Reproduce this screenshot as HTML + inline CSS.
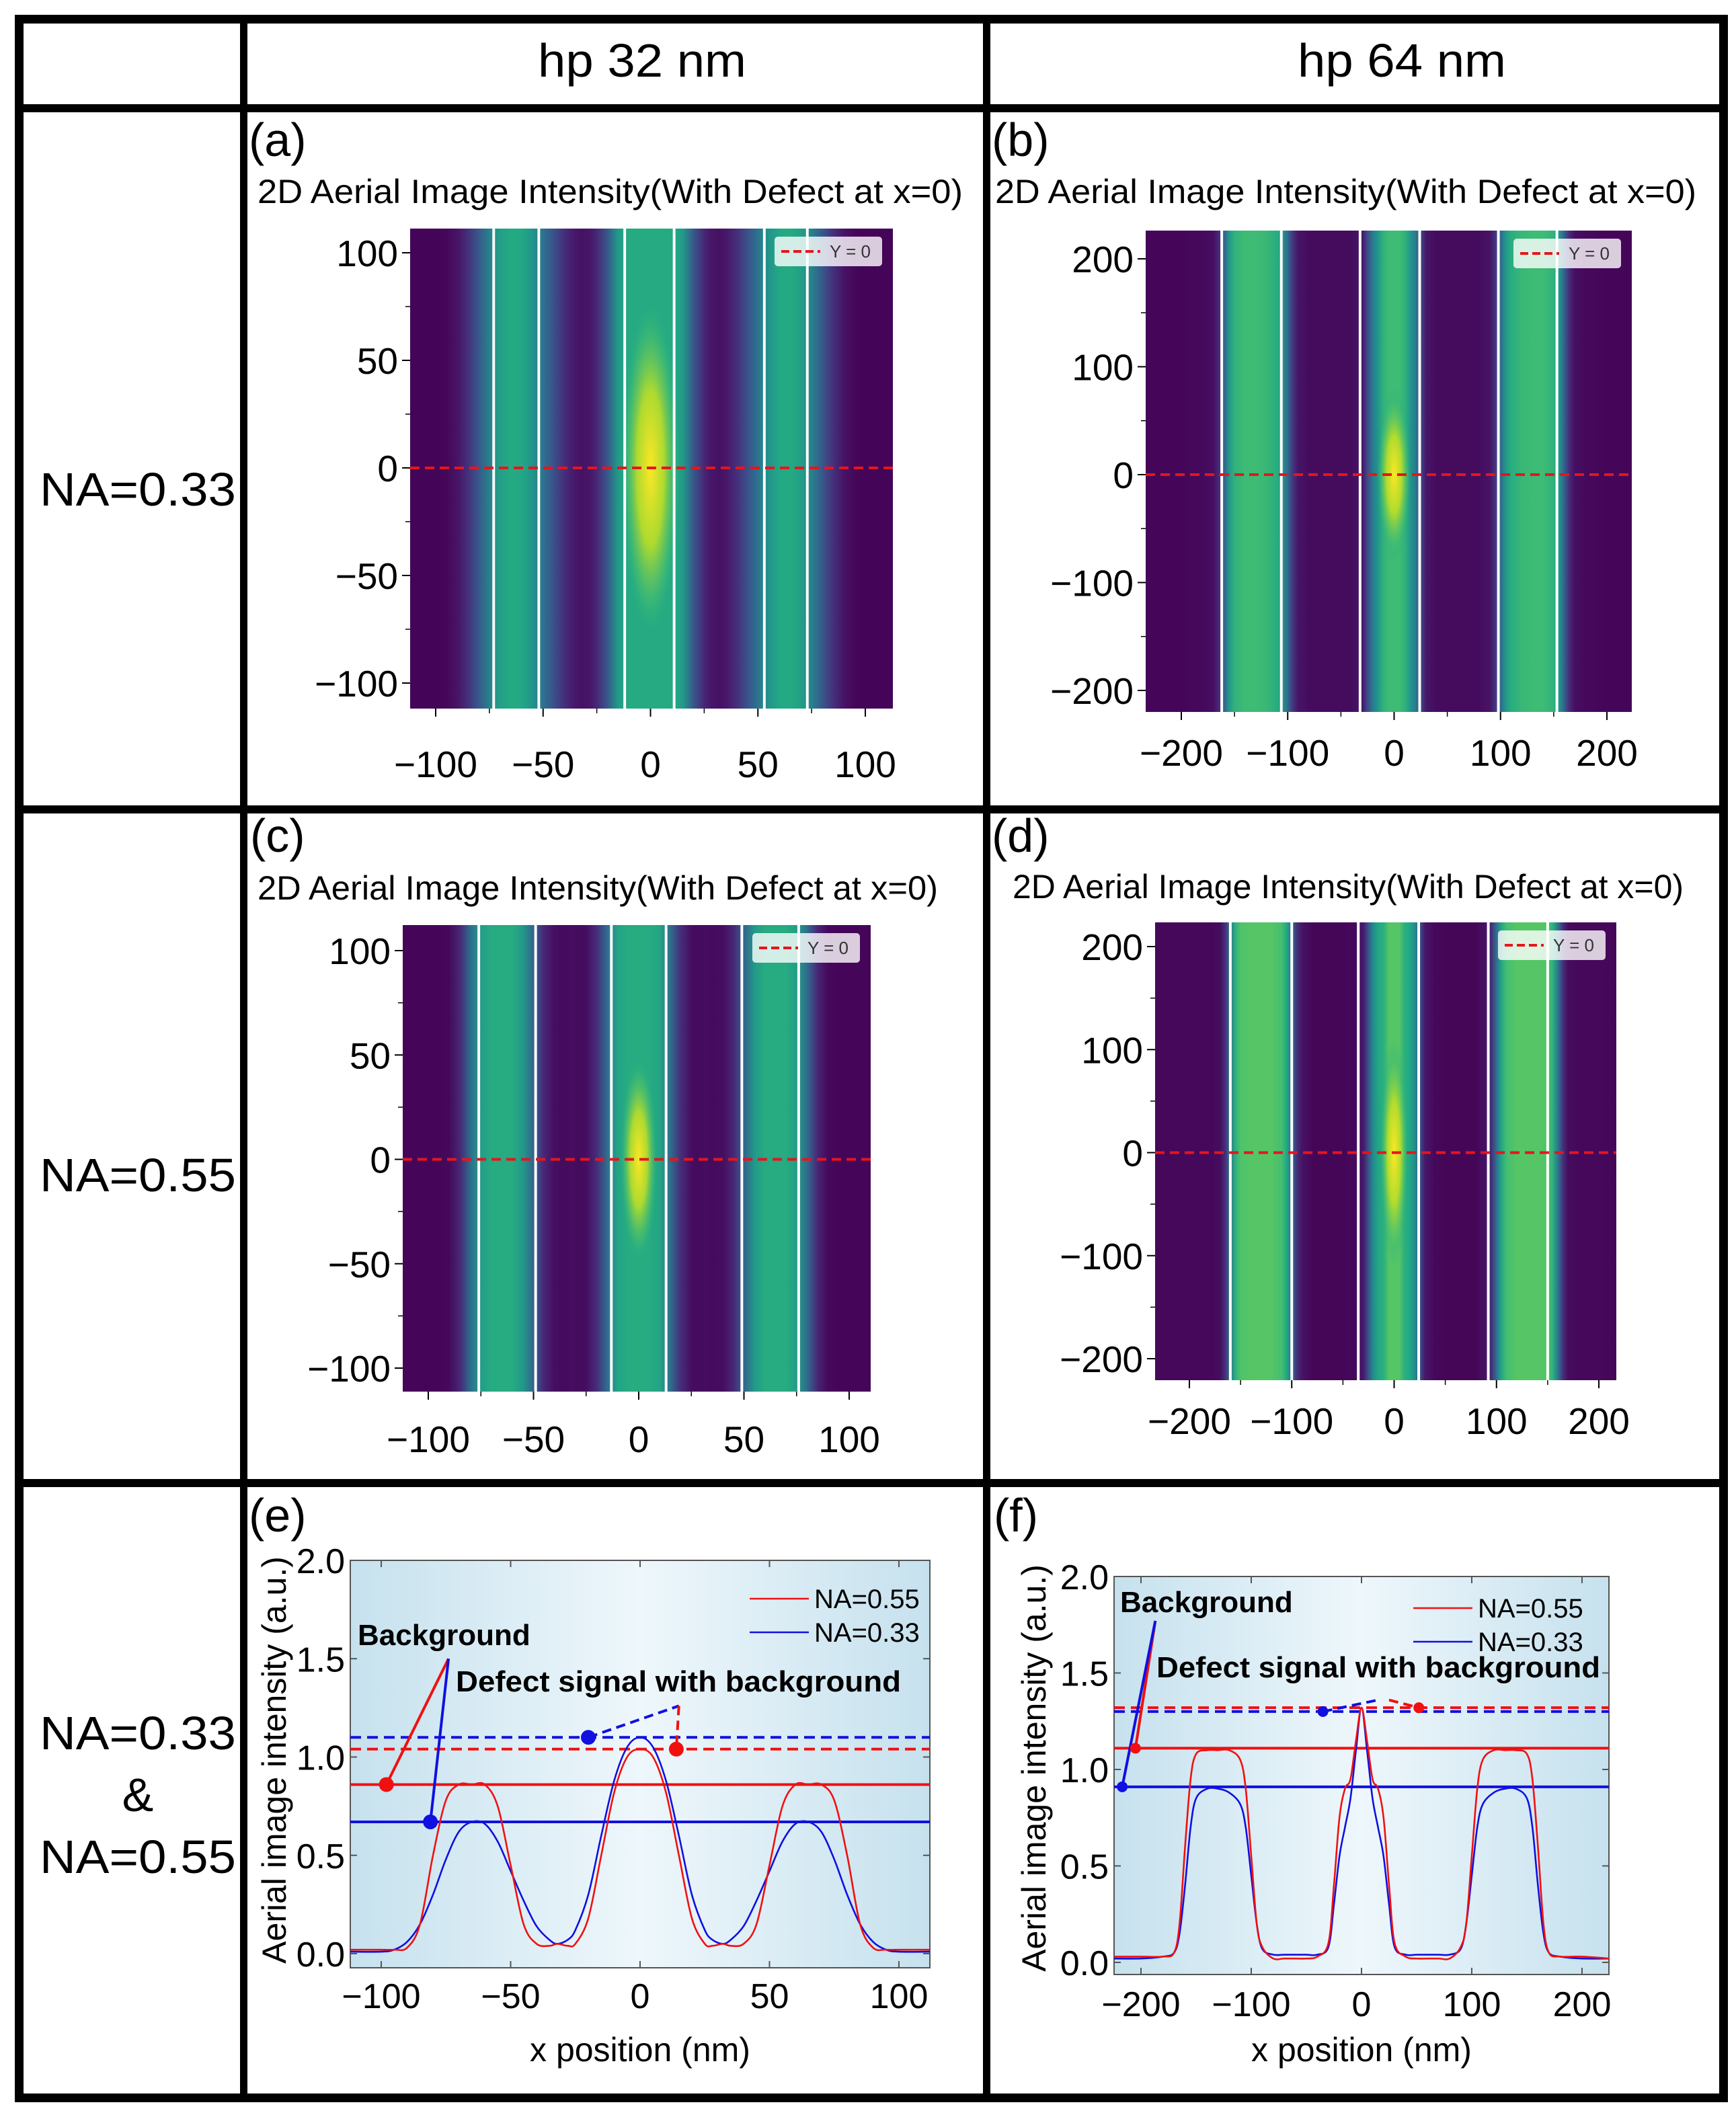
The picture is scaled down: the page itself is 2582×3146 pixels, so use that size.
<!DOCTYPE html>
<html><head><meta charset="utf-8">
<style>
html,body{margin:0;padding:0;background:#fff;}
svg{display:block;font-family:"Liberation Sans",Arial,sans-serif;}
</style></head>
<body>
<svg id="fig" width="2582" height="3146" viewBox="0 0 2582 3146" xmlns="http://www.w3.org/2000/svg">
<defs>
<linearGradient id="bgGrad" x1="0" x2="1" y1="0" y2="0">
<stop offset="0" stop-color="#c6e1ee"/><stop offset="0.5" stop-color="#eef7fb"/><stop offset="1" stop-color="#c6e1ee"/>
</linearGradient>
</defs>
<g id="grid" fill="#000">
<rect x="22" y="22" width="2548" height="13"/>
<rect x="22" y="3114" width="2548" height="13"/>
<rect x="22" y="22" width="13" height="3105"/>
<rect x="2557" y="22" width="13" height="3105"/>
<rect x="357" y="22" width="11" height="3105"/>
<rect x="1462" y="22" width="11" height="3105"/>
<rect x="22" y="155" width="2548" height="12"/>
<rect x="22" y="1198" width="2548" height="12"/>
<rect x="22" y="2200" width="2548" height="12"/>
</g>
<g font-size="70" text-anchor="middle" fill="#000">
<text x="955" y="114" textLength="310" lengthAdjust="spacingAndGlyphs">hp 32 nm</text>
<text x="2085" y="114" textLength="310" lengthAdjust="spacingAndGlyphs">hp 64 nm</text>
<text x="205" y="752" textLength="292" lengthAdjust="spacingAndGlyphs">NA=0.33</text>
<text x="205" y="1772" textLength="292" lengthAdjust="spacingAndGlyphs">NA=0.55</text>
<text x="205" y="2602" textLength="292" lengthAdjust="spacingAndGlyphs">NA=0.33</text>
<text x="205" y="2694">&amp;</text>
<text x="205" y="2786" textLength="292" lengthAdjust="spacingAndGlyphs">NA=0.55</text>
</g>
<g id="content"></g>
</svg>
<script>
// ---------- Data: line profiles (e) hp32 ----------
const eX = [-112,-100,-95,-90,-85,-80,-75,-70,-65,-60,-55,-50,-45,-40,-35,-32,-28,-25,-20,-15,-10,-5,0,5,10,15,20,25,28,32,35,40,45,50,55,60,65,70,75,80,85,90,95,100,112];
const eRed = [0.02,0.02,0.02,0.03,0.15,0.5,0.78,0.86,0.86,0.86,0.75,0.45,0.15,0.05,0.04,0.05,0.04,0.05,0.18,0.5,0.82,1.0,1.04,1.0,0.82,0.5,0.18,0.05,0.04,0.05,0.04,0.05,0.15,0.45,0.75,0.86,0.86,0.86,0.78,0.5,0.15,0.03,0.02,0.02,0.02];
const eBlue = [0.01,0.01,0.02,0.06,0.15,0.3,0.48,0.62,0.67,0.66,0.57,0.42,0.27,0.14,0.07,0.05,0.07,0.12,0.3,0.6,0.88,1.05,1.1,1.05,0.88,0.6,0.3,0.12,0.07,0.05,0.07,0.14,0.27,0.42,0.57,0.66,0.67,0.62,0.48,0.3,0.15,0.06,0.02,0.01,0.01];
// ---------- Data: line profiles (f) hp64 ----------
const fX = [-225,-200,-180,-170,-165,-160,-155,-150,-140,-130,-120,-110,-105,-100,-95,-90,-80,-70,-60,-50,-40,-30,-25,-20,-15,-10,-5,0,5,10,15,20,25,30,40,50,60,70,80,90,95,100,105,110,120,130,140,150,155,160,165,170,180,200,225];
const fRed = [0.03,0.03,0.03,0.05,0.2,0.6,0.95,1.08,1.1,1.1,1.1,1.05,0.9,0.55,0.2,0.08,0.02,0.02,0.02,0.02,0.03,0.1,0.4,0.75,0.9,0.95,1.15,1.32,1.15,0.95,0.9,0.75,0.4,0.1,0.03,0.02,0.02,0.02,0.02,0.08,0.2,0.55,0.9,1.05,1.1,1.1,1.1,1.08,0.95,0.6,0.2,0.05,0.03,0.03,0.02];
const fBlue = [0.02,0.02,0.03,0.05,0.15,0.4,0.7,0.85,0.9,0.9,0.88,0.82,0.7,0.45,0.2,0.07,0.04,0.04,0.04,0.04,0.04,0.08,0.3,0.55,0.7,0.85,1.1,1.32,1.1,0.85,0.7,0.55,0.3,0.08,0.04,0.04,0.04,0.04,0.04,0.07,0.2,0.45,0.7,0.82,0.88,0.9,0.9,0.85,0.7,0.4,0.15,0.05,0.03,0.02,0.02];
// ---------- Annotation levels ----------
const eLevels = {redBg:0.86, blueBg:0.67, redDef:1.04, blueDef:1.1};
const fLevels = {redBg:1.11, blueBg:0.91, redDef:1.32, blueDef:1.30};
// ---------- Tick labels ----------
const ticksHp32 = [-100,-50,0,50,100];
const ticksHp64 = [-200,-100,0,100,200];
const ticksInt = [0.0,0.5,1.0,1.5,2.0];
// ---------- Heatmap contours (white lines, nm) ----------
const contA = [-73,-52,-12,11,53,73];
const contB = [-162,-106,-32,24,98,153];
const contC = [-76,-49,-13,13,49,76];
const contD = [-160,-100,-35,24,92,150];

const NS="http://www.w3.org/2000/svg";
const root=document.getElementById('content');
function el(tag,attrs,parent){const e=document.createElementNS(NS,tag);for(const k in attrs)e.setAttribute(k,attrs[k]);(parent||root).appendChild(e);return e;}
function txt(s,attrs,parent){const t=el('text',attrs,parent);t.textContent=s;return t;}
function lin(d0,d1,r0,r1){return v=>r0+(v-d0)*(r1-r0)/(d1-d0);}
const VIR=['#440154','#482475','#414487','#355f8d','#2a788e','#21918c','#22a884','#44bf70','#7ad151','#bddf26','#fde725'];
function hx(h){return [1,3,5].map(i=>parseInt(h.substr(i,2),16));}
function viridis(t){t=Math.max(0,Math.min(1,t));const p=t*10,i=Math.min(9,Math.floor(p)),f=p-i;const a=hx(VIR[i]),b=hx(VIR[i+1]);return 'rgb('+a.map((v,k)=>Math.round(v+(b[k]-v)*f)).join(',')+')';}
function fmtNeg(v){return v<0?'\u2212'+Math.abs(v):String(v);}
function smoothPath(pts){
  let d='M'+pts[0][0]+','+pts[0][1];
  for(let i=0;i<pts.length-1;i++){
    const p0=pts[Math.max(0,i-1)],p1=pts[i],p2=pts[i+1],p3=pts[Math.min(pts.length-1,i+2)];
    const c1=[p1[0]+(p2[0]-p0[0])/6,p1[1]+(p2[1]-p0[1])/6];
    const c2=[p2[0]-(p3[0]-p1[0])/6,p2[1]-(p3[1]-p1[1])/6];
    d+=' C'+c1.join(',')+' '+c2.join(',')+' '+p2.join(',');
  }
  return d;
}

let gid=0;
function heatmap(cfg){
  const g=el('g',{});
  
  
  const sx=lin(cfg.xd[0],cfg.xd[1],cfg.xr[0],cfg.xr[1]);
  const sy=lin(cfg.yd[0],cfg.yd[1],cfg.yr[0],cfg.yr[1]);
  const L=cfg.box[0],T=cfg.box[1],R=cfg.box[2],B=cfg.box[3];
  const lab=txt(cfg.label,{x:cfg.labPos[0],y:cfg.labPos[1],'font-size':70},g);
  
  
  const ti=txt('2D Aerial Image Intensity(With Defect at x=0)',{x:cfg.titlePos[0],y:cfg.titlePos[1],'font-size':50,textLength:cfg.titleW,lengthAdjust:'spacingAndGlyphs'},g);
  
  
  const id='hg'+(gid++);
  const lg=el('linearGradient',{id:id,x1:L,x2:R,y1:0,y2:0,gradientUnits:'userSpaceOnUse'},g);
  cfg.xs.forEach((x,i)=>{const v=Math.min(cfg.vals[i],cfg.plateau)/cfg.peak;el('stop',{offset:Math.max(0,Math.min(1,(sx(x)-L)/(R-L))),'stop-color':viridis(v)},lg);});
  const r=el('rect',{x:L,y:T,width:R-L,height:B-T,fill:'url(#'+id+')'},g);
  
  
  const rid='rg'+(gid++);
  const rg=el('radialGradient',{id:rid},g);
  el('stop',{offset:0,'stop-color':'#fde725','stop-opacity':1},rg);
  el('stop',{offset:0.45,'stop-color':'#bddf26','stop-opacity':0.9},rg);
  el('stop',{offset:0.8,'stop-color':'#44bf70','stop-opacity':0.5},rg);
  el('stop',{offset:1,'stop-color':'#22a884','stop-opacity':0},rg);
  const d=el('ellipse',{cx:sx(0),cy:sy(0),rx:Math.abs(sx(cfg.def[0])-sx(0)),ry:Math.abs(sy(cfg.def[1])-sy(0)),fill:'url(#'+rid+')'},g);
  
  
  cfg.cont.forEach(c=>{const l=el('line',{x1:sx(c),x2:sx(c),y1:T,y2:B,stroke:'#fff','stroke-width':4},g);
    
    });
  const rl=el('line',{x1:L,x2:R,y1:sy(0),y2:sy(0),stroke:'#e8141c','stroke-width':4,'stroke-dasharray':'14 8'},g);
  
  
  const lgw=160,lgx=R-lgw-16,lgy=T+12;
  const lgG=el('g',{},g);
  
  
  el('rect',{x:lgx,y:lgy,width:lgw,height:44,rx:5,fill:'#ffffff','fill-opacity':0.8},lgG);
  el('line',{x1:lgx+10,x2:lgx+68,y1:lgy+22,y2:lgy+22,stroke:'#e8141c','stroke-width':4,'stroke-dasharray':'12 6'},lgG);
  txt('Y = 0',{x:lgx+82,y:lgy+31,'font-size':26,fill:'#333'},lgG);
  cfg.ticks.forEach(t=>{
    el('line',{x1:sx(t),x2:sx(t),y1:B,y2:B+12,stroke:'#000','stroke-width':2},g);
    const tx=txt(fmtNeg(t),{x:sx(t),y:B+cfg.xlabOff,'font-size':55,'text-anchor':'middle'},g);
    
    
  });
  cfg.yticks.forEach(t=>{
    el('line',{x1:L-12,x2:L,y1:sy(t),y2:sy(t),stroke:'#000','stroke-width':2},g);
    const ty=txt(fmtNeg(t),{x:L-18,y:sy(t)+20,'font-size':55,'text-anchor':'end'},g);
    
    
  });
  cfg.minor.forEach(t=>{el('line',{x1:L-7,x2:L,y1:sy(t),y2:sy(t),stroke:'#000','stroke-width':1.5},g);
    el('line',{x1:sx(t*cfg.mxr),x2:sx(t*cfg.mxr),y1:B,y2:B+7,stroke:'#000','stroke-width':1.5},g);});
}
heatmap({name:'panel-a-heatmap',label:'(a)',labPos:[370,232],titlePos:[383,302],titleW:1049,box:[610,340,1328,1054],xd:[-100,100],xr:[648,1287],yd:[100,-100],yr:[376,1016],
  xs:eX,vals:eBlue,plateau:0.67,peak:1.1,def:[14,80],cont:contA,ticks:ticksHp32,yticks:[100,50,0,-50,-100],minor:[75,25,-25,-75],mxr:1,xlabOff:102});
heatmap({name:'panel-b-heatmap',label:'(b)',labPos:[1475,232],titlePos:[1480,302],titleW:1043,box:[1704,343,2427,1059],xd:[-200,200],xr:[1757,2390],yd:[200,-200],yr:[385,1027],
  xs:fX,vals:fBlue,plateau:0.9,peak:1.32,def:[16,80],cont:contB,ticks:ticksHp64,yticks:[200,100,0,-100,-200],minor:[150,50,-50,-150],mxr:1,xlabOff:80});
heatmap({name:'panel-c-heatmap',label:'(c)',labPos:[372,1267],titlePos:[383,1338],titleW:1012,box:[599,1376,1295,2070],xd:[-100,100],xr:[637,1263],yd:[100,-100],yr:[1414,2035],
  xs:eX,vals:eRed,plateau:0.86,peak:1.4,def:[9,50],cont:contC,ticks:ticksHp32,yticks:[100,50,0,-50,-100],minor:[75,25,-25,-75],mxr:1,xlabOff:90});
heatmap({name:'panel-d-heatmap',label:'(d)',labPos:[1475,1267],titlePos:[1506,1336],titleW:998,box:[1718,1372,2404,2053],xd:[-200,200],xr:[1769,2378],yd:[200,-200],yr:[1408,2021],
  xs:fX,vals:fRed,plateau:1.1,peak:1.5,def:[14,110],cont:contD,ticks:ticksHp64,yticks:[200,100,0,-100,-200],minor:[150,50,-50,-150],mxr:1,xlabOff:80});

function lineChart(cfg){
  const g=el('g',{});
  
  
  const sx=lin(cfg.xd[0],cfg.xd[1],cfg.xr[0],cfg.xr[1]);
  const sy=lin(0,2,cfg.yr[0],cfg.yr[1]);
  const [L,T,R,B]=cfg.box;
  const lab=txt(cfg.label,{x:cfg.labPos[0],y:cfg.labPos[1],'font-size':70},g);
  
  
  const bg=el('rect',{x:L,y:T,width:R-L,height:B-T,fill:'url(#bgGrad)',stroke:'#555','stroke-width':2},g);
  
  
  const clipId='cl'+(gid++);
  const cp=el('clipPath',{id:clipId},g);el('rect',{x:L,y:T,width:R-L,height:B-T},cp);
  const pg=el('g',{'clip-path':'url(#'+clipId+')'},g);
  cfg.ticks.forEach(t=>{el('line',{x1:sx(t),x2:sx(t),y1:B,y2:B-10,stroke:'#555','stroke-width':2},g);el('line',{x1:sx(t),x2:sx(t),y1:T,y2:T+10,stroke:'#555','stroke-width':2},g);
    const tx=txt(fmtNeg(t),{x:sx(t),y:B+cfg.xlabOff,'font-size':52,'text-anchor':'middle'},g);
    
    });
  ticksInt.forEach(t=>{el('line',{x1:L,x2:L+10,y1:sy(t),y2:sy(t),stroke:'#555','stroke-width':2},g);el('line',{x1:R,x2:R-10,y1:sy(t),y2:sy(t),stroke:'#555','stroke-width':2},g);
    const ty=txt(t.toFixed(1),{x:L-8,y:sy(t)+19,'font-size':52,'text-anchor':'end'},g);
    
    });
  const xl=txt('x position (nm)',{x:(L+R)/2,y:cfg.xlabY,'font-size':50,'text-anchor':'middle'},g);
  
  
  const yl=txt('Aerial image intensity (a.u.)',{x:0,y:0,'font-size':50,'text-anchor':'middle',transform:'translate('+cfg.ylabX+','+cfg.ylabY+') rotate(-90)'},g);
  
  
  const lv=cfg.levels;
  [['redBg','#f01010',0],['blueBg','#1010e0',0],['redDef','#f01010',1],['blueDef','#1010e0',1]].forEach(([k,c,dash])=>{
    const l=el('line',{x1:L,x2:R,y1:sy(lv[k]),y2:sy(lv[k]),stroke:c,'stroke-width':4,'stroke-dasharray':dash?'16 9':'none'},pg);
    
    
  });
  function series(vals,col,name){
    const p=el('path',{d:smoothPath(cfg.xs.map((x,i)=>[sx(x),sy(vals[i])])),fill:'none',stroke:col,'stroke-width':2.6,'stroke-linejoin':'round'},pg);
    
    
  }
  series(cfg.blue,'#1010e0','series-na033');
  series(cfg.red,'#f01010','series-na055');
  const a=cfg.ann;
  el('polyline',{points:[sx(a.rb[0])+','+sy(lv.redBg),sx(a.apex[0])+','+sy(a.apex[1])].join(' '),stroke:'#f01010','stroke-width':4,fill:'none'},g);
  el('polyline',{points:[sx(a.bb[0])+','+sy(lv.blueBg),sx(a.apex[0])+','+sy(a.apex[1])].join(' '),stroke:'#1010e0','stroke-width':4,fill:'none'},g);
  el('circle',{cx:sx(a.rb[0]),cy:sy(lv.redBg),r:a.r,fill:'#f01010'},g);
  el('circle',{cx:sx(a.bb[0]),cy:sy(lv.blueBg),r:a.r,fill:'#1010e0'},g);
  el('line',{x1:sx(a.bd[0]),y1:sy(lv.blueDef),x2:sx(a.top[0]),y2:sy(a.top[1]),stroke:'#1010e0','stroke-width':4,'stroke-dasharray':'14 8'},g);
  el('line',{x1:sx(a.top2[0]),y1:sy(a.top2[1]),x2:sx(a.rd[0]),y2:sy(lv.redDef),stroke:'#f01010','stroke-width':4,'stroke-dasharray':'14 8'},g);
  el('circle',{cx:sx(a.bd[0]),cy:sy(lv.blueDef),r:a.r,fill:'#1010e0'},g);
  el('circle',{cx:sx(a.rd[0]),cy:sy(lv.redDef),r:a.r,fill:'#f01010'},g);
  const t1=txt('Background',{x:cfg.bgTxt[0],y:cfg.bgTxt[1],'font-size':44,'font-weight':'bold'},g);
  
  
  const t2=txt('Defect signal with background',{x:cfg.defTxt[0],y:cfg.defTxt[1],'font-size':44,'font-weight':'bold',textLength:cfg.defW,lengthAdjust:'spacingAndGlyphs'},g);
  
  
  const lg=el('g',{},g);
  
  
  const [lx,ly]=cfg.leg;
  el('line',{x1:lx,x2:lx+88,y1:ly,y2:ly,stroke:'#f01010','stroke-width':2.6},lg);
  txt('NA=0.55',{x:lx+96,y:ly+14,'font-size':40},lg);
  el('line',{x1:lx,x2:lx+88,y1:ly+50,y2:ly+50,stroke:'#1010e0','stroke-width':2.6},lg);
  txt('NA=0.33',{x:lx+96,y:ly+64,'font-size':40},lg);
}
lineChart({name:'panel-e-profile',label:'(e)',labPos:[370,2278],box:[521,2321,1383,2927],xd:[-100,100],xr:[567,1337],yr:[2906,2321],
  xs:eX,red:eRed,blue:eBlue,levels:eLevels,ticks:ticksHp32,xlabOff:60,xlabY:3066,ylabX:425,ylabY:2618,defW:662,
  ann:{rb:[-98],bb:[-81],apex:[-74,1.5],bd:[-20],top:[15,1.26],top2:[15,1.26],rd:[14],r:11},bgTxt:[532,2447],defTxt:[678,2516],leg:[1115,2378]});
lineChart({name:'panel-f-profile',label:'(f)',labPos:[1478,2278],box:[1657,2345,2393,2937],xd:[-200,200],xr:[1697,2353],yr:[2919,2345],
  xs:fX,red:fRed,blue:fBlue,levels:fLevels,ticks:ticksHp64,xlabOff:62,xlabY:3066,ylabX:1555,ylabY:2630,defW:660,
  ann:{rb:[-205],bb:[-217],apex:[-187,1.77],bd:[-35],top:[15,1.36],top2:[25,1.36],rd:[52],r:8},bgTxt:[1666,2398],defTxt:[1720,2495],leg:[2102,2392]});
</script>
</body></html>
